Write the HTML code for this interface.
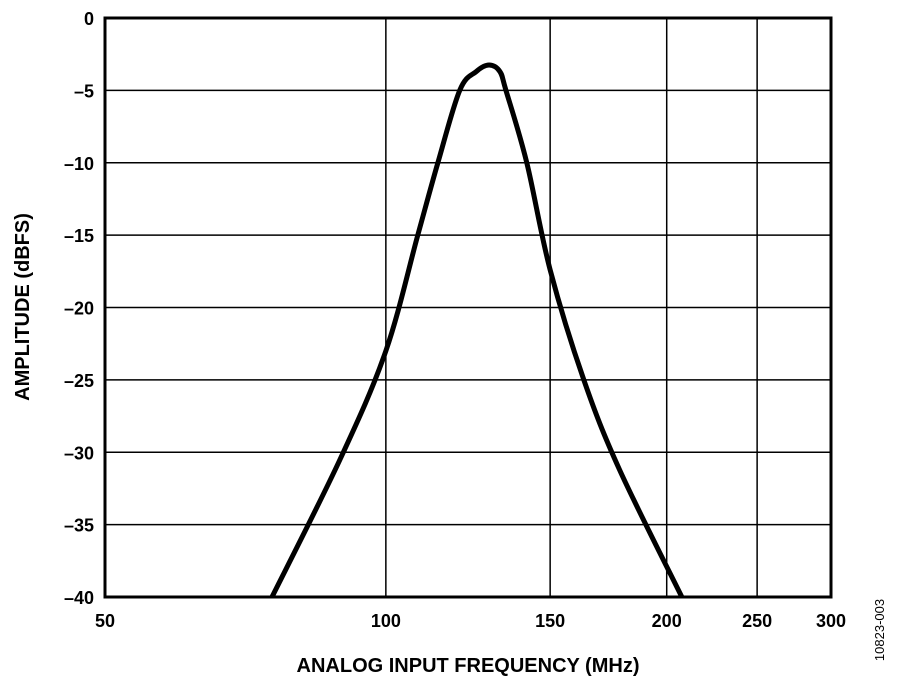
<!DOCTYPE html>
<html><head><meta charset="utf-8"><style>
body{margin:0;background:#fff}
svg text{font-family:"Liberation Sans",Arial,sans-serif;font-weight:bold;fill:#000}
</style></head><body>
<svg id="chart" width="900" height="686" xmlns="http://www.w3.org/2000/svg"></svg>
<script>
const xTicks=[50,100,150,200,250,300];
const yTicks=[0,-5,-10,-15,-20,-25,-30,-35,-40];
const freqs=[75.5,89.3,100,108.2,113.7,120,125,129,132.5,134.5,141.6,150,163,178,207.6];
const amps=[-40,-30.5,-23,-15,-10,-5,-3.7,-3.25,-3.7,-5,-10,-17.4,-25,-31.2,-40];
const L=105,R=831,T=18,B=597;
const NS="http://www.w3.org/2000/svg",svg=document.getElementById('chart');
const xs=f=>L+(R-L)*Math.log(f/50)/Math.log(6);
const ys=a=>T+(B-T)*(0-a)/40;
function mk(t,at,parent){const e=document.createElementNS(NS,t);for(const k in at)e.setAttribute(k,at[k]);(parent||svg).appendChild(e);return e;}
const grid=mk('g',{});


xTicks.forEach(v=>{const l=mk('line',{x1:xs(v),x2:xs(v),y1:T,y2:B,stroke:'#000','stroke-width':1.5},grid);


const t=mk('text',{x:xs(v),y:627,'text-anchor':'middle','font-size':18});t.textContent=v;

});
yTicks.forEach(v=>{const l=mk('line',{x1:L,x2:R,y1:ys(v),y2:ys(v),stroke:'#000','stroke-width':1.5},grid);


const t=mk('text',{x:94,y:ys(v)+7,'text-anchor':'end','font-size':18});t.textContent=v===0?'0':'\u2013'+(-v);

});
const fr=mk('rect',{x:L,y:T,width:R-L,height:B-T,fill:'none',stroke:'#000','stroke-width':3});


const P=freqs.map((f,i)=>[xs(f),ys(amps[i])]);
let d='M'+P[0][0]+','+P[0][1];
for(let i=0;i<P.length-1;i++){const p0=P[Math.max(i-1,0)],p1=P[i],p2=P[i+1],p3=P[Math.min(i+2,P.length-1)];
d+=' C'+(p1[0]+(p2[0]-p0[0])/6)+','+(p1[1]+(p2[1]-p0[1])/6)+' '+(p2[0]-(p3[0]-p1[0])/6)+','+(p2[1]-(p3[1]-p1[1])/6)+' '+p2[0]+','+p2[1];}
const c=mk('path',{d:d,fill:'none',stroke:'#000','stroke-width':5,'stroke-linejoin':'round'});


const xt=mk('text',{x:468,y:672,'text-anchor':'middle','font-size':20});xt.textContent='ANALOG INPUT FREQUENCY (MHz)';


const yt=mk('text',{x:0,y:0,'text-anchor':'middle','font-size':20,transform:'translate(29,307) rotate(-90)'});yt.textContent='AMPLITUDE (dBFS)';


const id=mk('text',{x:0,y:0,'text-anchor':'middle','font-size':13,style:'font-weight:normal',transform:'translate(884,630) rotate(-90)'});id.textContent='10823-003';


</script>
</body></html>
